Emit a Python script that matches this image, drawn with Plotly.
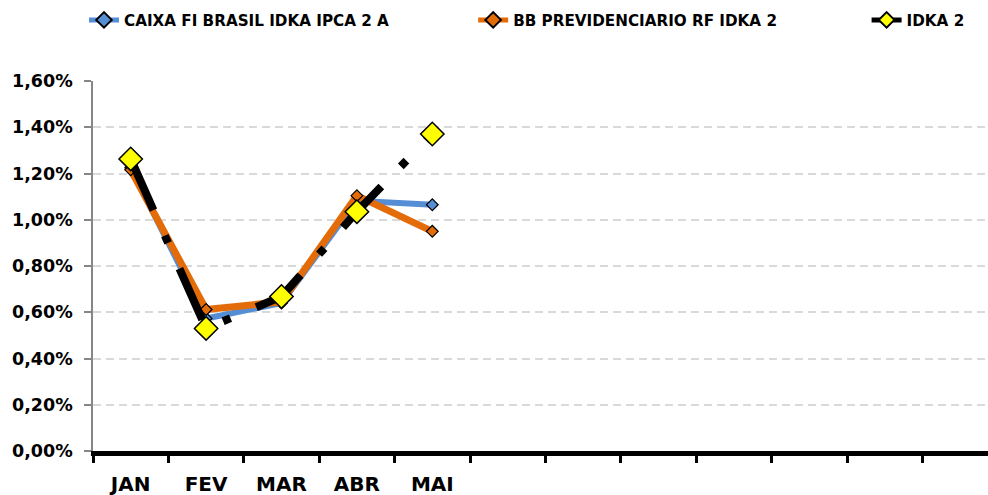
import plotly.graph_objects as go

months = ["JAN", "FEV", "MAR", "ABR", "MAI"]
caixa = [0.01225, 0.00573, 0.00640, 0.01082, 0.01065]
bb = [0.01216, 0.00612, 0.00645, 0.01104, 0.00950]
idka = [0.01263, 0.00530, 0.00668, 0.01035, 0.01371]
n_slots = 12
yticks = [0, 0.002, 0.004, 0.006, 0.008, 0.010, 0.012, 0.014, 0.016]

names = ["CAIXA FI BRASIL IDKA IPCA 2 A", "BB PREVIDENCIARIO RF IDKA 2", "IDKA 2"]
NB = "\u00A0"

x = list(range(len(months)))
FONT = "'DejaVu Sans', sans-serif"

fig = go.Figure()
fig.add_trace(go.Scatter(
    x=x, y=caixa, name=names[0] + NB * 15, mode="lines+markers",
    line=dict(color="#558ED5", width=6),
    marker=dict(symbol="diamond", size=9, color="#558ED5", line=dict(color="black", width=1.2)),
))
fig.add_trace(go.Scatter(
    x=x, y=bb, name=names[1] + NB * 16, mode="lines+markers",
    line=dict(color="#E36C09", width=7),
    marker=dict(symbol="diamond", size=9, color="#E36C09", line=dict(color="black", width=1.2)),
))
fig.add_trace(go.Scatter(
    x=x, y=idka, name=names[2], mode="lines+markers",
    line=dict(color="black", width=8, dash="56px,28px,8px,28px"),
    marker=dict(symbol="diamond", size=18, color="#FFFF00", line=dict(color="black", width=1.5)),
))

fig.update_layout(
    width=988, height=495,
    margin=dict(l=93, r=0, t=81, b=44),
    paper_bgcolor="white", plot_bgcolor="white",
    separators=",.",
    font=dict(family=FONT, color="black"),
    showlegend=True,
    legend=dict(
        orientation="h", xref="container", yref="container",
        x=84 / 988, xanchor="left", y=1 - 20 / 495, yanchor="middle",
        font=dict(size=15.2, family=FONT, color="black", weight="bold"),
        itemsizing="constant", itemwidth=30,
        bgcolor="rgba(0,0,0,0)", traceorder="normal",
    ),
)
fig.update_xaxes(
    range=[-0.5, -0.5 + (988 - 93) / 75.4],
    tickmode="array", tickvals=x, ticktext=months,
    ticks="", ticklen=0, ticklabelstandoff=11,
    tickfont=dict(size=20, family=FONT, color="black", weight="bold"),
    showline=True, linecolor="black", linewidth=5,
    showgrid=False, zeroline=False, automargin=False,
    minor=dict(tickmode="array", tickvals=[i - 0.5 for i in range(n_slots)],
               ticks="outside", ticklen=7, tickwidth=3, tickcolor="black", showgrid=False),
)
fig.update_yaxes(
    range=[0, 0.016], tickmode="array", tickvals=yticks, tickformat=".2%",
    ticks="outside", ticklen=7, tickwidth=1.5, tickcolor="#868686",
    tickfont=dict(size=17.5, family=FONT, color="black", weight="bold"),
    ticklabelstandoff=8, automargin=False,
    showline=True, linecolor="#868686", linewidth=1.5,
    showgrid=True, gridcolor="#D9D9D9", gridwidth=1.5, griddash="8px,5px",
    zeroline=False,
)

fig.write_html("out.html", config={"displayModeBar": False},
               post_script="document.body.style.margin='0';document.body.style.overflow='hidden';")
